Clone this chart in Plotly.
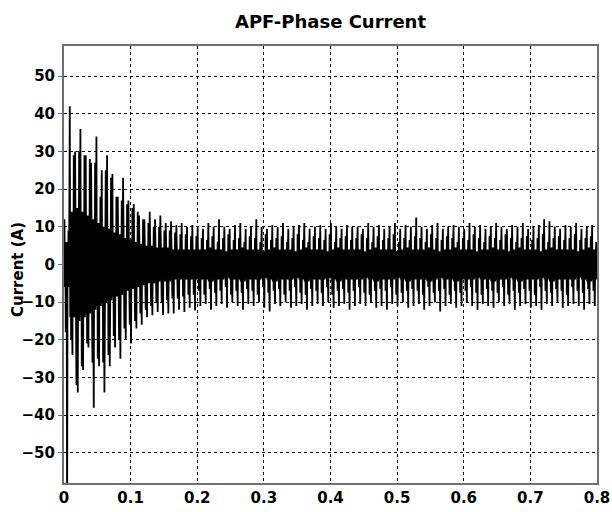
import plotly.graph_objects as go

# ---- data ----
period = 0.008  # s, spacing of the large current spikes

upper_peaks = [12, 42, 30, 36, 29, 27, 34, 25, 29, 24,
               18, 23, 17, 16, 13, 12, 14, 12, 13, 11,
               11.5, 10.5, 11, 10, 10.5,
               10, 9.5, 11, 10, 12, 10, 9.5, 10.5, 11, 9.5,
               10, 12, 10, 9.5, 10.5, 10, 11, 9.5, 10, 10.5,
               11, 9.5, 10, 10.5, 9.5, 11, 10, 9.5, 10.5, 10,
               10, 9.5, 11, 10, 10.5, 9.5, 10, 11, 9.5, 10.5,
               10, 12.5, 10, 9.5, 10.5, 11, 9.5, 10, 10.5, 10,
               9.5, 11, 10, 10.5, 9.5, 10, 11, 10, 9.5, 10.5,
               10, 11, 9.5, 10, 10.5, 12, 11.5, 10, 9.5, 10.5,
               10, 11, 9.5, 10, 10.5]

lower_peaks = [-75, -24, -34, -28, -22, -38, -27, -34, -27, -22,
               -25, -20, -21, -17, -16, -14, -13.5, -12.6, -13.4, -13,
               -13, -12, -12.6, -11.5, -12.2,
               -11, -10.5, -12, -11, -10.5, -11.5, -10, -11, -12, -10.5,
               -11, -10, -11.5, -12.5, -10.5, -11, -10, -11.5, -11, -10.5,
               -12, -11, -10.5, -11, -10, -11.5, -11, -10.5, -12, -11,
               -10.5, -11, -10, -11.5, -11, -12, -10.5, -11, -10, -11.5,
               -11, -10.5, -12, -11, -10, -12.5, -11, -10.5, -11.5, -11,
               -10, -11, -12, -10.5, -11, -11.5, -10, -11, -10.5, -12,
               -11, -10.5, -11.5, -11, -12, -10.5, -11, -10, -11.5, -11,
               -10.5, -11, -12, -10.5, -11]

second_up = [9, 29, 30, 29, 28, 27, 18, 25, 23, 18,
             17, 16, 15, 14, 12, 11, 10, 10, 9, 9,
             8.5, 8, 8, 7.5, 7.5,
             7, 6.5, 7.5, 6, 7, 8, 6.5, 7, 6, 7.5,
             7, 6, 8, 6.5, 7, 7.5, 6, 7, 8, 6.5,
             6, 7.5, 7, 6.5, 8, 6, 7, 7.5, 6.5, 7,
             8, 7, 6, 7.5, 6.5, 7, 8, 6, 7, 6.5,
             7.5, 7, 6, 8, 7, 6.5, 7.5, 7, 6, 7,
             6.5, 8, 7, 6, 7.5, 7, 6.5, 8, 7, 6,
             7, 7.5, 6.5, 7, 8, 6, 7, 7.5, 6.5, 7,
             8, 6.5, 7, 7.5, 6]

second_lo = [-18, -20, -32, -27, -21, -26, -25, -26, -24, -19,
             -20, -17, -16, -15, -13, -12, -11, -10, -10, -9.5,
             -9, -9, -8.5, -8, -8,
             -7, -8, -6.5, -7.5, -7, -6, -8, -7, -7.5, -6.5,
             -7, -8, -6, -7.5, -7, -6.5, -8, -7, -6, -7.5,
             -8, -6.5, -7, -7.5, -6, -8, -7, -6.5, -7.5, -7,
             -6, -7.5, -8, -7, -6.5, -7, -6, -8, -7.5, -7,
             -6.5, -7, -8, -6, -7.5, -7, -6.5, -8, -7, -7.5,
             -7, -6, -7.5, -8, -6.5, -7, -7.5, -6, -8, -7,
             -7.5, -6.5, -7, -8, -6, -7, -7.5, -6.5, -7, -8,
             -6, -7, -7.5, -6.5, -7]

band_width = [6, 14, 15, 14, 13, 12, 11, 10, 9.5, 8.5,
              8, 7, 6.5, 6, 5.5, 5, 5, 4.5, 4.5, 4.5,
              4, 4, 4, 4, 4,
              4, 4, 4.5, 4, 4, 3.5, 4, 4, 4.5, 4,
              4, 4, 3.5, 4, 4.5, 4, 4, 4, 3.5, 4,
              4.5, 4, 4, 4, 3.5, 4, 4.5, 4, 4, 4,
              4, 3.5, 4, 4.5, 4, 4, 4, 3.5, 4, 4.5,
              4, 4, 4, 4.5, 4, 3.5, 4, 4, 4.5, 4,
              4, 4, 3.5, 4, 4, 4.5, 4, 4, 3.5, 4,
              4.5, 4, 4, 4, 3.5, 4, 4.5, 4, 4, 4,
              4, 3.5, 4, 4.5, 4]

x_ticks = [0, 0.1, 0.2, 0.3, 0.4, 0.5, 0.6, 0.7, 0.8]
x_tick_text = ["0", "0.1", "0.2", "0.3", "0.4", "0.5", "0.6", "0.7", "0.8"]
y_ticks = [-50, -40, -30, -20, -10, 0, 10, 20, 30, 40, 50]

# ---- build the trace sequence from the read values ----
t, i = [], []
for k in range(len(upper_peaks)):
    up, lo, b = upper_peaks[k], lower_peaks[k], band_width[k]
    su, sl = second_up[k], second_lo[k]
    seq = [b, up, -b, b, sl, b, -b, lo, b, -b, su, -b]
    for j, v in enumerate(seq):
        t.append(k * period + j * period / len(seq))
        i.append(v)

fig = go.Figure(go.Scatter(x=t, y=i, mode="lines",
                           line=dict(color="black", width=1.8),
                           hoverinfo="skip"))

font_family = "DejaVu Sans"
axis_common = dict(
    showline=True, mirror=True, linecolor="#707070", linewidth=2,
    showgrid=True, gridcolor="black", gridwidth=1, griddash="3px,3px",
    zeroline=False, automargin=False,
    tickfont=dict(family=font_family, size=15, color="black", weight="bold"),
)

fig.update_layout(
    width=612, height=512,
    margin=dict(l=64, r=15, t=46, b=29),
    paper_bgcolor="white", plot_bgcolor="white",
    showlegend=False,
    title=dict(text="<b>APF-Phase Current</b>", x=0.5, xref="paper",
               y=1 - 22 / 512, yref="container", yanchor="middle",
               font=dict(family=font_family, size=18, color="black")),
    xaxis=dict(range=[0, 0.8], tickvals=x_ticks, ticktext=x_tick_text,
               ticks="", **axis_common),
    yaxis=dict(range=[-58, 58], tickvals=y_ticks, ticks="outside",
               ticklen=4, tickcolor="#707070", **axis_common),
    annotations=[dict(text="<b>Current (A)</b>", textangle=-90,
                      xref="paper", yref="paper",
                      x=(18 - 64) / 533, y=(483 - 270) / 437,
                      xanchor="center", yanchor="middle", showarrow=False,
                      font=dict(family=font_family, size=15, color="black"))],
)

fig.write_html("out.html")
